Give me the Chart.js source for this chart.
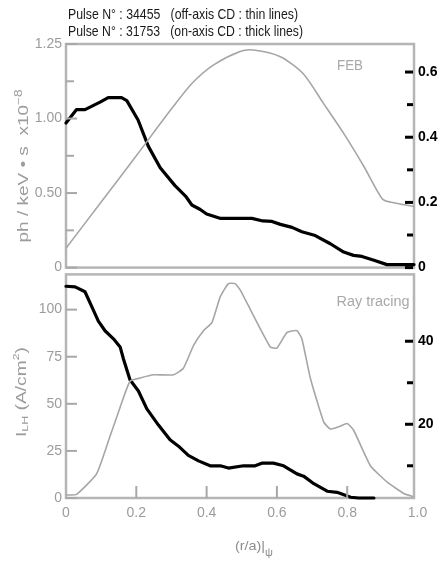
<!DOCTYPE html>
<html>
<head>
<meta charset="utf-8">
<script src="https://cdn.jsdelivr.net/npm/chart.js@4.4.0/dist/chart.umd.min.js"></script>
<style>
  html, body { margin: 0; padding: 0; background: #ffffff; }
  #wrap { position: relative; width: 442px; height: 562px; overflow: hidden; }
  canvas { position: absolute; left: 0; }
</style>
</head>
<body>
<div id="wrap">
  <canvas id="feb" width="442" height="280" style="top:0;width:442px;height:280px"></canvas>
  <canvas id="ray" width="442" height="300" style="top:262px;width:442px;height:300px"></canvas>
</div>
<script>
// ---- FEB emission profiles (ph / keV·s ×10^-8) ----
const febThinX  = [0, 0.1, 0.2, 0.305, 0.36, 0.42, 0.495, 0.533, 0.61, 0.675, 0.733, 0.79, 0.847, 0.90, 0.922, 0.99];
const febThinY  = [0.13, 0.44, 0.75, 1.08, 1.24, 1.36, 1.45, 1.46, 1.415, 1.30, 1.10, 0.90, 0.68, 0.46, 0.44, 0.41];
const febThickX = [0, 0.03, 0.054, 0.097, 0.12, 0.158, 0.173, 0.205, 0.234, 0.268, 0.31, 0.34, 0.358, 0.382, 0.40, 0.44,
                   0.529, 0.56, 0.586, 0.61, 0.643, 0.671, 0.709, 0.752, 0.79, 0.818, 0.842, 0.876, 0.913, 0.99];
const febThickY = [0.97, 1.06, 1.06, 1.11, 1.14, 1.14, 1.12, 0.99, 0.815, 0.67, 0.55, 0.48, 0.42, 0.39, 0.36, 0.33,
                   0.33, 0.313, 0.31, 0.29, 0.27, 0.24, 0.215, 0.16, 0.104, 0.082, 0.075, 0.049, 0.02, 0.02];

// ---- Ray-tracing LH current density (A/cm²) ----
const rayThinX  = [0, 0.03, 0.087, 0.125, 0.154, 0.182, 0.211, 0.249, 0.306, 0.334, 0.363, 0.391, 0.415, 0.439, 0.462, 0.481,
                   0.496, 0.534, 0.581, 0.60, 0.629, 0.657, 0.671, 0.695, 0.733, 0.752, 0.776, 0.80, 0.818, 0.866, 0.914, 0.961, 0.988];
const rayThinY  = [1.6, 1.9, 12.8, 32.6, 48.2, 62.0, 63.7, 65.4, 65.4, 68.9, 81.0, 88.8, 93.1, 106.9, 113.8, 113.8,
                   110.4, 96.5, 80.2, 79.6, 87.9, 88.8, 84.5, 63.7, 40.4, 36.6, 37.8, 39.5, 36.1, 17.1, 8.4, 2.4, 0.7];
const rayThickX = [0, 0.026, 0.054, 0.073, 0.092, 0.111, 0.135, 0.154, 0.163, 0.182, 0.206, 0.23, 0.263, 0.296, 0.32, 0.348,
                   0.377, 0.41, 0.439, 0.462, 0.505, 0.538, 0.557, 0.59, 0.619, 0.657, 0.676, 0.705, 0.743, 0.771, 0.81, 0.833, 0.876];
const rayThickY = [112.4, 112.1, 109.5, 101.7, 93.9, 88.8, 84.5, 80.2, 74.1, 62.8, 56.8, 47.3, 38.7, 30.9, 27.5, 22.6,
                   19.7, 17.1, 17.1, 15.9, 17.1, 17.1, 18.5, 18.5, 17.1, 12.8, 11.6, 7.6, 3.6, 3.0, 0.4, 0, 0];

// ---- tick values and labels ----
const radiusTicks      = [0, 0.2, 0.4, 0.6, 0.8, 1.0];
const radiusLabels     = ['0', '0.2', '0.4', '0.6', '0.8', '1.0'];
const febLeftTicks     = [0, 0.5, 1.0, 1.5];
const febLeftLabels    = ['0', '0.50', '1.00', '1.25'];
const febLeftMinor     = [0.25, 0.75, 1.25];
const febRightTicks    = [0, 0.2, 0.4, 0.6];
const febRightLabels   = ['0', '0.2', '0.4', '0.6'];
const febRightMinor    = [0.1, 0.3, 0.5];
const rayLeftTicks     = [0, 25, 50, 75, 100];
const rayLeftLabels    = ['0', '25', '50', '75', '100'];
const rayRightTicks    = [20, 40];
const rayRightLabels   = ['20', '40'];
const rayRightMinor    = [10, 30];

const headerLines = ['Pulse N° : 34455   (off-axis CD : thin lines)', 'Pulse N° : 31753   (on-axis CD : thick lines)'];

const GREY_TEXT = '#9c9c9c';
const FRAME = '#b5b5b5';
const FONT = '"Liberation Sans", Arial, sans-serif';

const pts = (xs, ys) => xs.map((x, i) => ({ x, y: ys[i] }));

// draw text squeezed/stretched horizontally to a given width
function fitText(ctx, text, x, y, width, font, color, align) {
  ctx.save();
  ctx.font = font;
  ctx.fillStyle = color;
  ctx.textBaseline = 'alphabetic';
  ctx.textAlign = 'left';
  const w = ctx.measureText(text).width;
  const sx = width / w;
  let x0 = x;
  if (align === 'center') x0 = x - width / 2;
  ctx.translate(x0, y);
  ctx.scale(sx, 1);
  ctx.fillText(text, 0, 0);
  ctx.restore();
}

// draw a run of pieces [{t, size, dy}] centred at (0,0) in the current transform, fitted to width
function drawPieces(ctx, pieces, width, color) {
  let total = 0;
  pieces.forEach(p => { ctx.font = p.size + 'px ' + FONT; p.w = ctx.measureText(p.t).width; total += p.w; });
  const sx = width / total;
  ctx.save();
  ctx.scale(sx, 1);
  ctx.fillStyle = color;
  ctx.textBaseline = 'middle';
  ctx.textAlign = 'left';
  let cx = -total / 2;
  pieces.forEach(p => {
    ctx.font = p.size + 'px ' + FONT;
    ctx.fillText(p.t, cx, p.dy || 0);
    cx += p.w;
  });
  ctx.restore();
}

function tickMarks(ctx, chart, leftId, rightId, leftMajor, leftMinor, rightMajor, rightMinor, xTicks) {
  const a = chart.chartArea;
  ctx.save();
  ctx.strokeStyle = '#a8a8a8';
  ctx.lineWidth = 2;
  const ly = chart.scales[leftId];
  leftMajor.forEach(v => { const y = ly.getPixelForValue(v); ctx.beginPath(); ctx.moveTo(a.left, y); ctx.lineTo(a.left + 11, y); ctx.stroke(); });
  leftMinor.forEach(v => { const y = ly.getPixelForValue(v); ctx.beginPath(); ctx.moveTo(a.left, y); ctx.lineTo(a.left + 8, y); ctx.stroke(); });
  if (xTicks) {
    const sx = chart.scales.x;
    xTicks.forEach(v => { const x = sx.getPixelForValue(v); ctx.beginPath(); ctx.moveTo(x, a.bottom); ctx.lineTo(x, a.bottom - 12); ctx.stroke(); });
  }
  ctx.strokeStyle = '#000000';
  ctx.lineWidth = 3;
  const ry = chart.scales[rightId];
  rightMajor.forEach(v => { const y = ry.getPixelForValue(v); ctx.beginPath(); ctx.moveTo(a.right - 9, y); ctx.lineTo(a.right - 1, y); ctx.stroke(); });
  rightMinor.forEach(v => { const y = ry.getPixelForValue(v); ctx.beginPath(); ctx.moveTo(a.right - 7, y); ctx.lineTo(a.right - 1, y); ctx.stroke(); });
  ctx.restore();
}

const frameBehind = {
  id: 'frameBehind',
  beforeDatasetsDraw(chart) {
    const { ctx, chartArea: a } = chart;
    ctx.save();
    ctx.strokeStyle = FRAME;
    ctx.lineWidth = 2.5;
    ctx.strokeRect(a.left, a.top, a.right - a.left, a.bottom - a.top);
    ctx.restore();
  }
};

function leftAxis(min, max, ticks, labels, pad) {
  return {
    type: 'linear', position: 'left', min, max,
    afterFit(s) { s.width = 66; },
    afterBuildTicks(s) { s.ticks = ticks.map(v => ({ value: v })); },
    grid: { display: false, drawTicks: false },
    border: { display: false },
    ticks: { autoSkip: false, padding: pad, color: GREY_TEXT, font: { family: FONT, size: 14 },
             callback: (v, i) => labels[i] }
  };
}
function rightAxis(min, max, ticks, labels) {
  return {
    type: 'linear', position: 'right', min, max,
    afterFit(s) { s.width = 28; },
    afterBuildTicks(s) { s.ticks = ticks.map(v => ({ value: v })); },
    grid: { display: false, drawTicks: false },
    border: { display: false },
    ticks: { autoSkip: false, padding: 4, color: '#000000', font: { family: FONT, size: 14, weight: 'bold' },
             callback: (v, i) => labels[i] }
  };
}

const thinStyle  = { borderColor: '#a6a6a6', borderWidth: 1.6, pointRadius: 0, fill: false, tension: 0.25, clip: false };
const thickStyle = { borderColor: '#000000', borderWidth: 3.2, pointRadius: 0, fill: false, tension: 0, clip: false,
                     borderJoinStyle: 'round', borderCapStyle: 'round' };

// ---- upper panel: FEB ----
new Chart(document.getElementById('feb'), {
  type: 'line',
  data: {
    datasets: [
      Object.assign({ label: 'FEB 34455', data: pts(febThinX, febThinY) }, thinStyle),
      Object.assign({ label: 'FEB 31753', data: pts(febThickX, febThickY) }, thickStyle)
    ]
  },
  options: {
    responsive: false, animation: false, devicePixelRatio: 1,
    layout: { padding: { top: 44, bottom: 11, left: 0, right: 0 } },
    plugins: { legend: { display: false }, tooltip: { enabled: false } },
    scales: {
      x: { type: 'linear', min: 0, max: 0.99, display: false },
      y: leftAxis(0, 1.5, febLeftTicks, febLeftLabels, 4),
      y2: rightAxis(0, 0.686, febRightTicks, febRightLabels)
    }
  },
  plugins: [frameBehind, {
    id: 'febDecor',
    afterDraw(chart) {
      const ctx = chart.ctx;
      tickMarks(ctx, chart, 'y', 'y2', febLeftTicks, febLeftMinor, febRightTicks, febRightMinor, null);
      fitText(ctx, headerLines[0], 68, 18.5, 230, '15px ' + FONT, '#1a1a1a', 'left');
      fitText(ctx, headerLines[1], 68, 36, 235, '15px ' + FONT, '#1a1a1a', 'left');
      fitText(ctx, 'FEB', 350, 70, 26, '14px ' + FONT, '#a8a8a8', 'center');
      ctx.save();
      ctx.translate(24, 166);
      ctx.rotate(-Math.PI / 2);
      drawPieces(ctx, [{ t: 'ph / keV • s  x10', size: 14 }, { t: '−8', size: 10, dy: -5 }], 153, GREY_TEXT);
      ctx.restore();
    }
  }]
});

// ---- lower panel: ray tracing ----
new Chart(document.getElementById('ray'), {
  type: 'line',
  data: {
    datasets: [
      Object.assign({ label: 'LH 34455', data: pts(rayThinX, rayThinY) }, thinStyle, { tension: 0.15 }),
      Object.assign({ label: 'LH 31753', data: pts(rayThickX, rayThickY) }, thickStyle)
    ]
  },
  options: {
    responsive: false, animation: false, devicePixelRatio: 1,
    layout: { padding: { top: 7, bottom: 0, left: 0, right: 0 } },
    plugins: { legend: { display: false }, tooltip: { enabled: false } },
    scales: {
      x: {
        type: 'linear', position: 'bottom', min: 0, max: 0.99,
        afterFit(s) { s.height = 64; },
        afterBuildTicks(s) { s.ticks = radiusTicks.map(v => ({ value: v })); },
        grid: { display: false, drawTicks: false },
        border: { display: false },
        ticks: { autoSkip: false, maxRotation: 0, padding: 7, color: GREY_TEXT, font: { family: FONT, size: 14 },
                 callback: (v, i) => radiusLabels[i] }
      },
      y: leftAxis(0, 118.7, rayLeftTicks, rayLeftLabels, 4),
      y2: rightAxis(2.24, 56.1, rayRightTicks, rayRightLabels)
    }
  },
  plugins: [frameBehind, {
    id: 'rayDecor',
    afterDraw(chart) {
      const ctx = chart.ctx;
      tickMarks(ctx, chart, 'y', 'y2', rayLeftTicks, [], rayRightTicks, rayRightMinor, [0.2, 0.4, 0.6, 0.8]);
      fitText(ctx, 'Ray tracing', 373, 44, 73, '14px ' + FONT, '#a8a8a8', 'center');
      ctx.save();
      ctx.translate(22, 130);
      ctx.rotate(-Math.PI / 2);
      drawPieces(ctx, [{ t: 'I', size: 14 }, { t: 'LH', size: 9, dy: 4 }, { t: ' (A/cm', size: 14 }, { t: '2', size: 9, dy: -5 }, { t: ')', size: 14 }], 90, GREY_TEXT);
      ctx.restore();
      ctx.save();
      ctx.translate(254, 284);
      drawPieces(ctx, [{ t: '(r/a)|', size: 13 }, { t: 'ψ', size: 10, dy: 7 }], 38, '#8c8c8c');
      ctx.restore();
    }
  }]
});
</script>
</body>
</html>
